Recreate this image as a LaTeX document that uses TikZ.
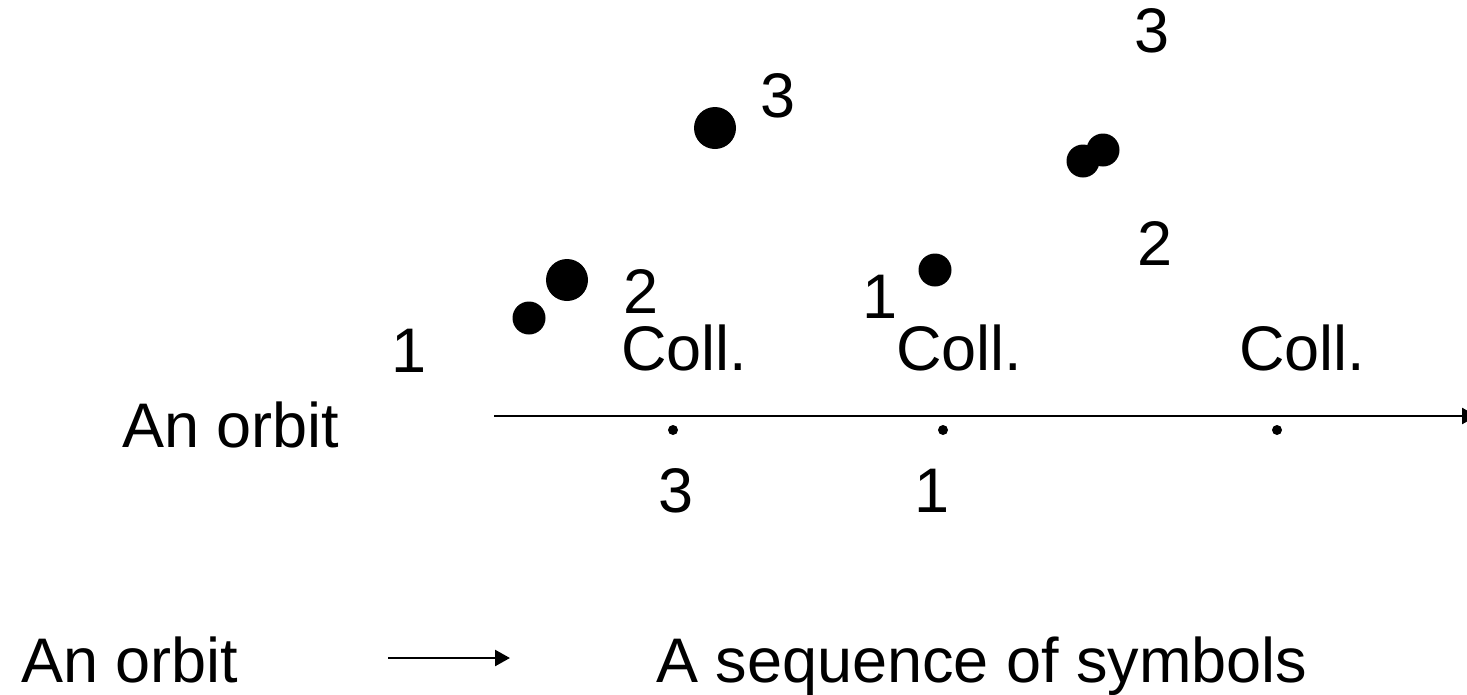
\documentclass[tikz,border=0pt]{standalone}
\usepackage{fontspec}
\setmainfont{Liberation Sans}
\usetikzlibrary{arrows.meta}
\begin{document}
\begin{tikzpicture}[x=1pt,y=-1pt,
  lbl/.style={inner sep=0pt,font=\fontsize{63}{70}\selectfont},
  bigdot/.style={circle,fill=black,inner sep=0pt,minimum size=42pt},
  middot/.style={circle,fill=black,inner sep=0pt,minimum size=33pt},
  tinydot/.style={circle,fill=black,inner sep=0pt,minimum size=10pt},
  axisline/.style={line width=2.5pt,-{Triangle[length=15pt,width=16pt]}}]
\clip (0,0) rectangle (1467,694);
\fill[white] (0,0) rectangle (1467,694);
% dots
\node[bigdot] (d3a) at (715,128) {};
\node[middot] (d3b) at (1103,150) {};
\node[middot] (d2b) at (1083,161) {};
\node[middot] (d1b) at (935,270) {};
\node[bigdot] (d2a) at (567,280) {};
\node[middot] (d1a) at (529,318) {};
% numbers
\node[lbl,anchor=base] (n3r) at (1152,52) {3};
\node[lbl,anchor=base] (n3t) at (778,117) {3};
\node[lbl,anchor=base] (n2r) at (1155,265) {2};
\node[lbl,anchor=base] (n1m) at (880,318) {1};
\node[lbl,anchor=base] (n2l) at (641,313) {2};
\node[lbl,anchor=base] (n1l) at (409,372) {1};
% Coll. labels
\node[lbl,anchor=base west] (c1) at (621,370) {Coll.};
\node[lbl,anchor=base west] (c2) at (896,370) {Coll.};
\node[lbl,anchor=base west] (c3) at (1239,370) {Coll.};
% axis
\node[lbl,anchor=base west] (orb1) at (122,447) {An orbit};
\coordinate (axs) at (494,416);
\coordinate (axe) at (1477,416);
\draw[axisline] (axs) -- (axe);
\node[tinydot] (t1) at (673,430) {};
\node[tinydot] (t2) at (943,430) {};
\node[tinydot] (t3) at (1277,430) {};
\node[lbl,anchor=base] (b3) at (676,512) {3};
\node[lbl,anchor=base] (b1) at (932,512) {1};
% bottom line
\node[lbl,anchor=base west] (orb2) at (21,682) {An orbit};
\coordinate (bs) at (388,658);
\coordinate (be) at (510,658);
\draw[axisline] (bs) -- (be);
\node[lbl,anchor=base west] (seq) at (656,682) {A sequence of symbols};
\end{tikzpicture}
\end{document}
